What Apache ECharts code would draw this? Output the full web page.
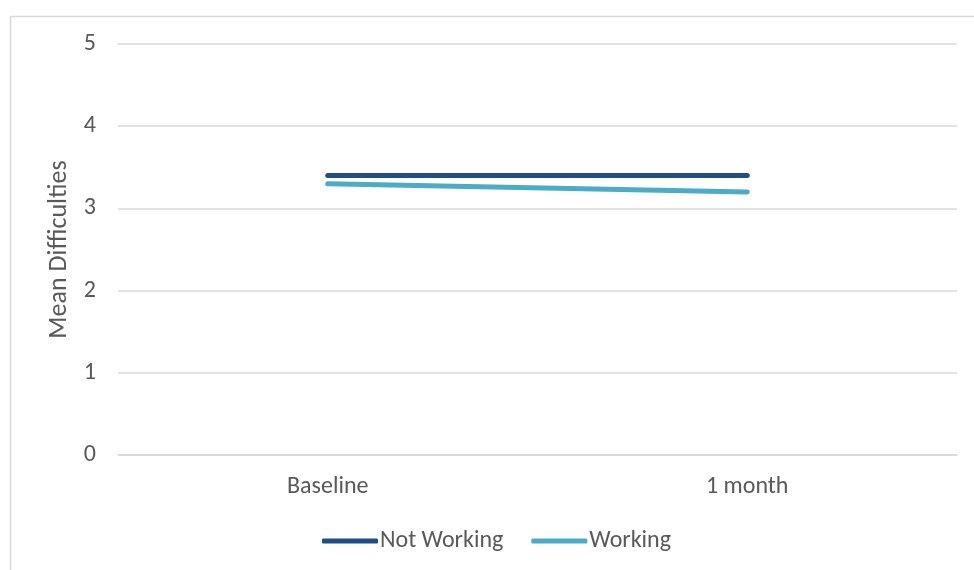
<!DOCTYPE html>
<html>
<head>
<meta charset="utf-8">
<script src="https://cdn.jsdelivr.net/npm/echarts@6/dist/echarts.min.js"></script>
<style>
html,body{margin:0;padding:0;background:#fff;}
#chart{width:974px;height:570px;}
</style>
</head>
<body>
<div id="chart"></div>
<script>
// Time points on the x axis
const categories = ['Baseline', '1 month'];
// Mean difficulty scores by employment status
const notWorking = [3.4, 3.4];
const working = [3.3, 3.2];
const seriesNames = ['Not Working', 'Working'];

const chart = echarts.init(document.getElementById('chart'));
const font = 'Calibri, Carlito, Lato, sans-serif';

chart.setOption({
  animation: false,
  backgroundColor: '#ffffff',
  graphic: [{
    type: 'rect',
    shape: { x: 10.5, y: 16.5, width: 1000, height: 700 },
    style: { fill: 'none', stroke: '#d9d9d9', lineWidth: 1.5 },
    silent: true
  }],
  grid: { left: 118, right: 17, top: 44, bottom: 115, containLabel: false },
  legend: {
    bottom: 12,
    left: 317,
    itemWidth: 56,
    itemHeight: 5,
    itemGap: 28,
    icon: 'roundRect',
    textStyle: { fontFamily: font, fontSize: 24, color: '#595959', padding: [0, 0, 0, -3] },
    data: seriesNames
  },
  xAxis: {
    type: 'category',
    data: categories,
    boundaryGap: true,
    axisLine: { show: true, lineStyle: { color: '#d9d9d9', width: 1.5 } },
    axisTick: { show: false },
    axisLabel: { fontFamily: font, fontSize: 24, color: '#595959', margin: 20 }
  },
  yAxis: {
    type: 'value',
    min: 0,
    max: 5,
    interval: 1,
    name: 'Mean Difficulties',
    nameLocation: 'middle',
    nameGap: 36,
    nameTextStyle: { fontFamily: font, fontSize: 26, color: '#595959' },
    axisLine: { show: false },
    axisTick: { show: false },
    splitLine: { lineStyle: { color: '#d9d9d9', width: 1.5 } },
    axisLabel: { fontFamily: font, fontSize: 24, color: '#595959', margin: 22 }
  },
  series: [
    {
      name: seriesNames[0],
      type: 'line',
      data: notWorking,
      color: '#1f4e85',
      symbol: 'none',
      lineStyle: { width: 5, cap: 'round' },
      z: 3
    },
    {
      name: seriesNames[1],
      type: 'line',
      data: working,
      color: '#4bacc6',
      symbol: 'none',
      lineStyle: { width: 5, cap: 'round' },
      z: 2
    }
  ]
});
</script>
</body>
</html>
